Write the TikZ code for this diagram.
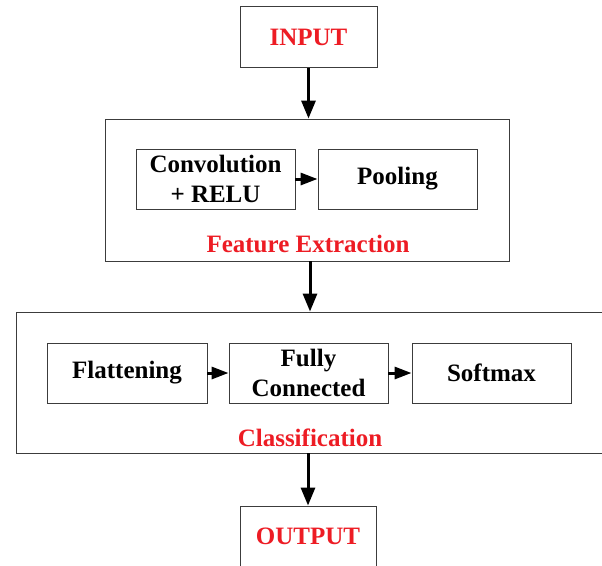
\documentclass[tikz,border=0pt]{standalone}
\usepackage{fontspec}
\setmainfont{Liberation Serif}
\usetikzlibrary{arrows.meta}
\definecolor{lblred}{RGB}{237,28,36}
\definecolor{boxline}{RGB}{60,60,60}
\tikzset{
  box/.style={draw=boxline, line width=0.9pt, fill=white, inner sep=0pt, align=center,
    font=\fontsize{25}{30}\selectfont\bfseries},
  group/.style={draw=boxline, line width=0.9pt, inner sep=0pt},
  redtxt/.style={text=lblred},
  lbl/.style={font=\fontsize{25}{30}\selectfont\bfseries, text=lblred, inner sep=0pt, anchor=base},
  flow/.style={line width=3pt, -{Triangle[length=18pt,width=14pt]}},
  small/.style={line width=3pt, -{Triangle[length=17pt,width=12pt]}}
}
\begin{document}
\begin{tikzpicture}[x=1pt,y=-1pt]
\useasboundingbox (0,0) rectangle (602,565);
\clip (0,0) rectangle (602,565);
% groups
\node[group, minimum width=404pt, minimum height=142pt] (fe) at (307,190) {};
\node[group, minimum width=604pt, minimum height=141pt] (cls) at (318,382.5) {};
% boxes
\node[box, redtxt, minimum width=137pt, minimum height=61pt] (in) at (308.5,37) {INPUT};
\node[box, minimum width=159pt, minimum height=60pt] (conv) at (215.5,179) {Convolution\\+ RELU};
\node[box, minimum width=159pt, minimum height=60pt] (pool) at (397.5,179) {Pooling};
\node[box, minimum width=160pt, minimum height=60pt] (flat) at (127,373) {Flattening};
\node[box, minimum width=159pt, minimum height=60pt] (fc) at (308.5,373) {Fully\\Connected};
\node[box, minimum width=159pt, minimum height=60pt] (soft) at (491.5,373) {Softmax};
\node[box, redtxt, minimum width=136pt, minimum height=61pt] (out) at (308,536.5) {OUTPUT};
% labels
\node[lbl] (felbl) at (308,252) {Feature Extraction};
\node[lbl] (clslbl) at (310,446) {Classification};
% connectors
\draw[flow] (in.south) -- (in.south |- fe.north);
\draw[flow] (fe.south -| in.south) ++(1.5,0) coordinate (a1) -- (a1 |- cls.north);
\draw[flow] (cls.south -| out.north) -- (out.north);
\draw[small] (conv.east) -- (pool.west);
\draw[small] (flat.east) -- (fc.west);
\draw[small] (fc.east) -- (soft.west);
\end{tikzpicture}
\end{document}
